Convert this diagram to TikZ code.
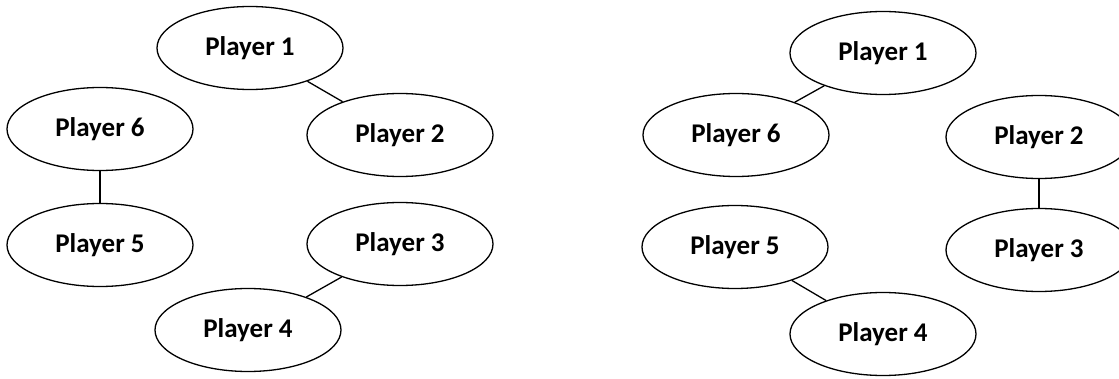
\documentclass[tikz,border=0pt]{standalone}
\usepackage{fontspec}
\setmainfont{Carlito}
\usetikzlibrary{shapes.geometric}
\begin{document}
\begin{tikzpicture}[x=1pt,y=-1pt,
  player/.style={ellipse,draw,line width=1.3pt,minimum width=186pt,minimum height=83pt,inner sep=0pt,font=\fontsize{27}{30}\selectfont\bfseries},
  link/.style={line width=1.3pt}]
\useasboundingbox (0,0) rectangle (1119,379);
% left diagram
\node[player] (a1) at (250,48) {Player 1};
\node[player] (a2) at (400,135) {Player 2};
\node[player] (a3) at (400,244) {Player 3};
\node[player] (a4) at (248,330) {Player 4};
\node[player] (a5) at (100,245) {Player 5};
\node[player] (a6) at (100,129) {Player 6};
\draw[link] (a1) -- (a2);
\draw[link] (a3) -- (a4);
\draw[link] (a6) -- (a5);
% right diagram
\node[player] (b1) at (883,53) {Player 1};
\node[player] (b2) at (1039,137) {Player 2};
\node[player] (b3) at (1039,250) {Player 3};
\node[player] (b4) at (883,334) {Player 4};
\node[player] (b5) at (735,247) {Player 5};
\node[player] (b6) at (736,135) {Player 6};
\draw[link] (b1) -- (b6);
\draw[link] (b2) -- (b3);
\draw[link] (b5) -- (b4);
\end{tikzpicture}
\end{document}
